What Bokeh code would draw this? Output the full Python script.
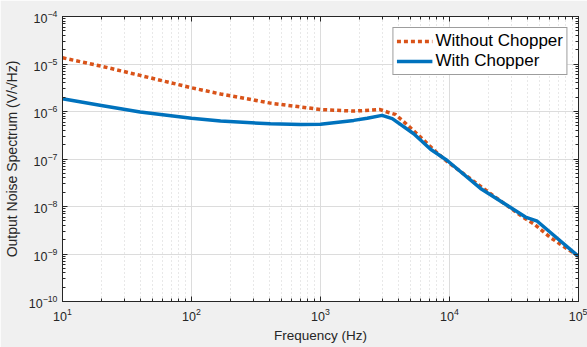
import numpy as np
from bokeh.plotting import figure
from bokeh.models import LogAxis, Legend, LegendItem, ColumnDataSource, FixedTicker, CustomJSTickFormatter
from bokeh.embed import file_html
from bokeh.resources import INLINE

# data
f_without = [10, 20, 40, 100, 168, 409, 1000, 1810, 2500, 2900, 3390, 3800, 4700, 5780, 7780, 9550, 16400, 20800, 38800, 45100, 60300, 100000]
v_without = [1.35e-5, 9.0e-6, 5.75e-6, 3.16e-6, 2.34e-6, 1.5e-6, 1.1e-6, 1.02e-6, 1.07e-6, 1.1e-6, 9.5e-7, 8.7e-7, 5.25e-7, 3.13e-7, 1.45e-7, 8.9e-8, 3.0e-8, 1.86e-8, 5.5e-9, 4.3e-9, 2.24e-9, 8.9e-10]
f_with = [10, 20, 40, 100, 168, 409, 700, 1000, 1810, 2300, 3000, 3600, 5280, 7130, 9600, 17400, 38800, 47900, 100000]
v_with = [1.86e-6, 1.34e-6, 9.8e-7, 7.2e-7, 6.3e-7, 5.5e-7, 5.3e-7, 5.4e-7, 6.5e-7, 7.2e-7, 8.3e-7, 7.1e-7, 3.4e-7, 1.6e-7, 9.3e-8, 2.4e-8, 6.0e-9, 4.9e-9, 8.9e-10]

x_ticks = [10, 100, 1000, 10000, 100000]
y_ticks = [1e-10, 1e-9, 1e-8, 1e-7, 1e-6, 1e-5, 1e-4]
x_minor = [m * d for d in [10, 100, 1000, 10000] for m in range(2, 10)]
y_minor = [m * d for d in [1e-10, 1e-9, 1e-8, 1e-7, 1e-6, 1e-5] for m in range(2, 10)]

FONT = "Liberation Sans"
TXT = "#262626"

p = figure(width=587, height=347, x_axis_type="log", y_axis_type="log",
           x_range=(10, 1e5), y_range=(1e-10, 1e-4),
           output_backend="svg", toolbar_location=None,
           min_border_left=62, min_border_right=9, min_border_top=16, min_border_bottom=46)
p.background_fill_color = "white"
p.border_fill_color = "#f0f0f0"
p.outline_line_color = TXT

src_wo = ColumnDataSource(dict(x=f_without, y=v_without))
src_w = ColumnDataSource(dict(x=f_with, y=v_with))
r1 = p.line("x", "y", source=src_wo, line_color="#D95319", line_width=3.5, line_dash="4 3", line_join="round")
r2 = p.line("x", "y", source=src_w, line_color="#0072BD", line_width=3.5, line_join="round")

for ax in (p.xaxis[0], p.yaxis[0]):
    ax.major_label_text_font = FONT
    ax.major_label_text_font_size = "12.5px"
    ax.major_label_text_color = TXT
    ax.axis_label_text_font = FONT
    ax.axis_label_text_font_style = "normal"
    ax.axis_label_text_color = TXT
    ax.axis_line_color = TXT
    ax.major_tick_line_color = TXT
    ax.minor_tick_line_color = TXT
    ax.major_tick_in = 5
    ax.major_tick_out = 0
    ax.minor_tick_in = 3
    ax.minor_tick_out = 0

p.xaxis[0].ticker = FixedTicker(ticks=x_ticks, minor_ticks=x_minor)
p.yaxis[0].ticker = FixedTicker(ticks=y_ticks, minor_ticks=y_minor)
p.xaxis[0].axis_label = "Frequency (Hz)"
p.yaxis[0].axis_label = "Output Noise Spectrum (V/\u221aHz)"
p.xaxis[0].axis_label_text_font_size = "13.5px"
p.yaxis[0].axis_label_text_font_size = "14px"
p.xaxis[0].axis_label_standoff = 4
p.yaxis[0].axis_label_standoff = 6
p.xaxis[0].major_label_standoff = 6
p.yaxis[0].major_label_standoff = 5


def mirror(ticks, minor):
    return LogAxis(ticker=FixedTicker(ticks=ticks, minor_ticks=minor),
                   formatter=CustomJSTickFormatter(code="return ''"),
                   major_label_text_font_size="1px", major_label_standoff=0,
                   axis_line_color=TXT, major_tick_line_color=TXT, minor_tick_line_color=TXT,
                   major_tick_in=5, major_tick_out=0, minor_tick_in=3, minor_tick_out=0)


p.add_layout(mirror(x_ticks, x_minor), "above")
p.add_layout(mirror(y_ticks, y_minor), "right")

p.xgrid.grid_line_color = "#dcdcdc"
p.xgrid.minor_grid_line_color = "#d0d0d0"
p.xgrid.minor_grid_line_dash = "1 3"
p.ygrid.grid_line_color = "#dcdcdc"

legend = Legend(items=[LegendItem(label="Without Chopper", renderers=[r1]),
                       LegendItem(label="With Chopper", renderers=[r2])],
                location="top_right")
legend.label_text_font = FONT
legend.label_text_font_size = "17px"
legend.label_text_color = "black"
legend.border_line_color = "#3c3c3c"
legend.background_fill_alpha = 1
legend.margin = 11
legend.padding = 3
legend.spacing = 0
legend.glyph_width = 36
legend.glyph_height = 20
legend.label_height = 20
legend.label_standoff = 3
p.add_layout(legend)

open("out.html", "w").write(file_html(p, INLINE))
